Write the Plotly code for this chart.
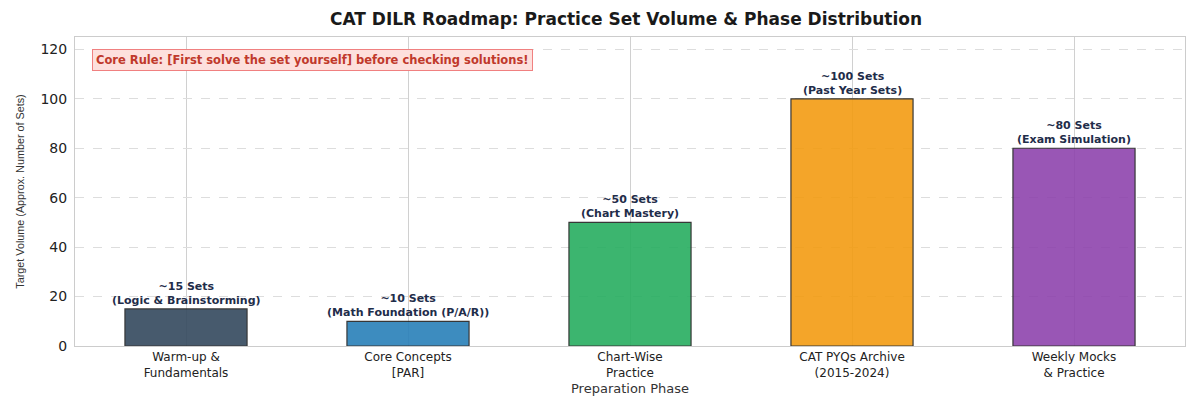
import plotly.graph_objects as go

phases = ["Warm-up &<br>Fundamentals", "Core Concepts<br>[PAR]", "Chart-Wise<br>Practice",
          "CAT PYQs Archive<br>(2015-2024)", "Weekly Mocks<br>& Practice"]
set_counts = [15, 10, 50, 100, 80]
bar_notes = ["~15 Sets<br>(Logic & Brainstorming)", "~10 Sets<br>(Math Foundation (P/A/R))",
             "~50 Sets<br>(Chart Mastery)", "~100 Sets<br>(Past Year Sets)",
             "~80 Sets<br>(Exam Simulation)"]
bar_colors = ["#34495e", "#2980b9", "#27ae60", "#f39c12", "#8e44ad"]
y_ticks = [0, 20, 40, 60, 80, 100, 120]

font = "DejaVu Sans, Liberation Sans, sans-serif"

fig = go.Figure(go.Bar(
    x=list(range(len(phases))), y=set_counts, width=0.55,
    marker=dict(color=bar_colors, line=dict(color="#222222", width=1.2)),
    opacity=0.9, hoverinfo="skip",
))

for i, (v, note) in enumerate(zip(set_counts, bar_notes)):
    fig.add_annotation(x=i, y=v, text="<b>" + note + "</b>", showarrow=False,
                       yanchor="bottom", yshift=0,
                       font=dict(family=font, size=11, color="#1f2d4a"))

fig.add_annotation(xref="paper", yref="paper", x=0.015, y=0.961, xanchor="left", yanchor="top",
                   text="<b>Core Rule: [First solve the set yourself] before checking solutions!</b>",
                   showarrow=False, font=dict(family=font, size=11.5, color="#c0392b"),
                   bgcolor="#fde0dd", bordercolor="#f08080", borderwidth=1, borderpad=3)

# x axis title as an annotation so it sits close under the two-line tick labels
fig.add_annotation(xref="paper", yref="paper", x=0.5, y=-0.137, yanchor="middle",
                   text="Preparation Phase", showarrow=False,
                   font=dict(family=font, size=13, color="#333333"))

# the page adds an 8px body margin, so the margins are shifted to compensate
fig.update_layout(
    width=1200, height=400,
    margin=dict(l=67, r=23, t=29, b=62, autoexpand=False),
    plot_bgcolor="white", paper_bgcolor="white",
    font=dict(family=font, color="#333333"),
    title=dict(text="<b>CAT DILR Roadmap: Practice Set Volume & Phase Distribution</b>",
               x=0.515, xanchor="center", y=0.988, yanchor="top", pad=dict(t=0),
               font=dict(size=17, color="#1a1a1a")),
    showlegend=False,
)
fig.update_xaxes(
    tickmode="array", tickvals=list(range(len(phases))), ticktext=phases,
    range=[-0.5, 4.5], showgrid=True, gridcolor="#d0d0d0", gridwidth=1,
    showline=True, linecolor="#cccccc", mirror=True, ticks="", automargin=False,
    tickfont=dict(size=12, color="#222222"),
)
fig.update_yaxes(
    range=[0, 125], tickvals=y_ticks, showgrid=True, gridcolor="#dddddd", griddash="dash",
    showline=True, linecolor="#cccccc", mirror=True, zeroline=False, ticks="", automargin=False,
    tickfont=dict(size=14, color="#222222"), ticklabelstandoff=4,
    title=dict(text="Target Volume (Approx. Number of Sets)",
               font=dict(family="Liberation Sans, sans-serif", size=10.8, color="#333333"),
               standoff=13),
)

fig.write_html("out.html")
